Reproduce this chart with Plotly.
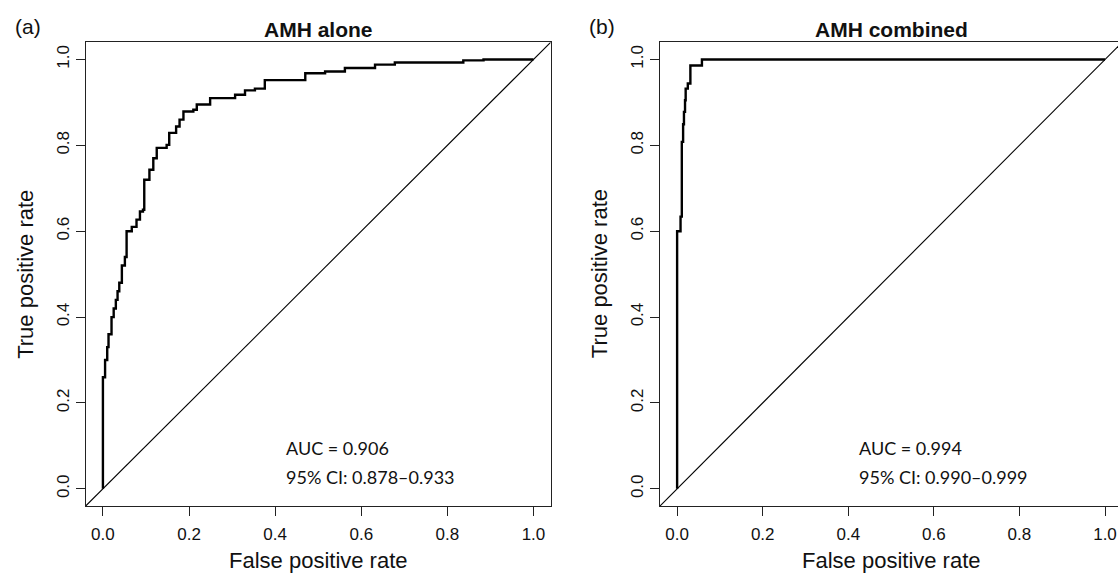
import plotly.graph_objects as go

# ---------------- data ----------------
fpr_alone = [0.0, 0.0, 0.005, 0.010, 0.013, 0.020, 0.025, 0.030, 0.034, 0.038, 0.044, 0.051,
             0.055, 0.067, 0.078, 0.086, 0.093, 0.096, 0.108, 0.117, 0.125, 0.148, 0.154,
             0.170, 0.178, 0.187, 0.210, 0.218, 0.249, 0.307, 0.330, 0.353, 0.376, 0.470,
             0.516, 0.562, 0.632, 0.678, 0.837, 0.884, 1.0]
tpr_alone = [0.0, 0.26, 0.30, 0.33, 0.36, 0.40, 0.42, 0.44, 0.46, 0.48, 0.52, 0.54,
             0.60, 0.61, 0.627, 0.646, 0.65, 0.72, 0.743, 0.77, 0.794, 0.801, 0.829,
             0.844, 0.860, 0.879, 0.883, 0.895, 0.910, 0.918, 0.928, 0.932, 0.952, 0.968,
             0.972, 0.980, 0.988, 0.993, 0.998, 1.0, 1.0]

fpr_comb = [0.0, 0.0, 0.008, 0.011, 0.014, 0.016, 0.0185, 0.020, 0.025, 0.031, 0.058, 1.0]
tpr_comb = [0.0, 0.60, 0.634, 0.808, 0.849, 0.878, 0.905, 0.932, 0.944, 0.986, 1.0, 1.0]

tick_vals = [0.0, 0.2, 0.4, 0.6, 0.8, 1.0]
tick_text = ["0.0", "0.2", "0.4", "0.6", "0.8", "1.0"]

panel_titles = ["AMH alone", "AMH combined"]
panel_tags = ["(a)", "(b)"]
auc_labels = ["AUC = 0.906", "AUC = 0.994"]
ci_labels = ["95% CI: 0.878\u20130.933", "95% CI: 0.990\u20130.999"]
x_title = "False positive rate"
y_title = "True positive rate"

# ---------------- layout constants ----------------
W, H = 1118, 579
pad = 0.04
lo, hi = 0.0 - pad, 1.0 + pad
box_w = 465.0
a_left, b_left = 85.7, 660.0
box_top, box_bot = 42.3, 506.0
# panel (b) runs off the right edge of the figure, as in the original
b_one_px = 1105.0
b_hi = lo + (W - b_left) * (1.0 - lo) / (b_one_px - b_left)
b_w = (b_one_px - b_left) * (hi - lo) / (1.0 - lo)

FONT = "Liberation Sans, Arial, sans-serif"
AUC_FONT = "Lato, Carlito, sans-serif"

fig = go.Figure()

curves = [(fpr_alone, tpr_alone, "x", "y"), (fpr_comb, tpr_comb, "x2", "y2")]
for fx, ty, xa, ya in curves:
    fig.add_trace(go.Scatter(x=[lo, hi], y=[lo, hi], mode="lines",
                             line=dict(color="black", width=1.1),
                             xaxis=xa, yaxis=ya, showlegend=False, hoverinfo="skip"))
    fig.add_trace(go.Scatter(x=fx, y=ty, mode="lines", line_shape="hv",
                             line=dict(color="black", width=2.4),
                             xaxis=xa, yaxis=ya, showlegend=False))

axis_common = dict(
    tickmode="array", tickvals=tick_vals, ticktext=tick_text,
    ticks="outside", ticklen=9, tickwidth=1.3, tickcolor="#222",
    showline=True, linecolor="#222", linewidth=1.4,
    showgrid=False, zeroline=False,
    tickfont=dict(family=FONT, size=17, color="#111"),
    fixedrange=True,
)

yd = [1 - box_bot / H, 1 - box_top / H]
fig.update_layout(
    width=W, height=H,
    margin=dict(l=0, r=0, t=0, b=0),
    paper_bgcolor="white", plot_bgcolor="white",
    xaxis=dict(domain=[a_left / W, (a_left + box_w) / W], range=[lo, hi], anchor="y",
               mirror=True, ticklabelstandoff=3, **axis_common),
    yaxis=dict(domain=yd, range=[lo, hi], anchor="x", mirror=True, tickangle=-90,
               **axis_common),
    xaxis2=dict(domain=[b_left / W, 1.0], range=[lo, b_hi], anchor="y2",
                mirror=True, ticklabeloverflow="allow", ticklabelstandoff=3, **axis_common),
    yaxis2=dict(domain=yd, range=[lo, hi], anchor="x2", mirror=False, tickangle=-90,
                **axis_common),
)

ann = []
for i, (left, bw) in enumerate([(a_left, box_w), (b_left, b_w)]):
    cx = (left + bw / 2) / W
    xr = "x" if i == 0 else "x2"
    yr = "y" if i == 0 else "y2"
    ann.append(dict(text="<b>%s</b>" % panel_titles[i], x=cx, y=1 - 30 / H, xref="paper", yref="paper",
                    showarrow=False, xanchor="center", yanchor="middle",
                    font=dict(family=FONT, size=21, color="#111")))
    ann.append(dict(text=panel_tags[i], x=(28 + (left - a_left)) / W, y=1 - 27 / H,
                    xref="paper", yref="paper", showarrow=False,
                    xanchor="center", yanchor="middle",
                    font=dict(family=FONT, size=21, color="#111")))
    ann.append(dict(text=x_title, x=cx, y=1 - 560 / H, xref="paper", yref="paper",
                    showarrow=False, xanchor="center", yanchor="middle",
                    font=dict(family=FONT, size=22, color="#111")))
    ann.append(dict(text=y_title, x=(left - 61) / W, y=(yd[0] + yd[1]) / 2,
                    xref="paper", yref="paper", textangle=-90,
                    showarrow=False, xanchor="center", yanchor="middle",
                    font=dict(family=FONT, size=22, color="#111")))
    ann.append(dict(text=auc_labels[i], x=0.42, y=0.095, xref=xr, yref=yr,
                    showarrow=False, xanchor="left", yanchor="middle",
                    font=dict(family=AUC_FONT, size=18, color="#111")))
    ann.append(dict(text=ci_labels[i], x=0.42, y=0.028, xref=xr, yref=yr,
                    showarrow=False, xanchor="left", yanchor="middle",
                    font=dict(family=AUC_FONT, size=18, color="#111")))

fig.update_layout(annotations=ann)
fig.write_html("out.html", config={"displayModeBar": False},
               post_script="document.body.style.margin='0px';")
